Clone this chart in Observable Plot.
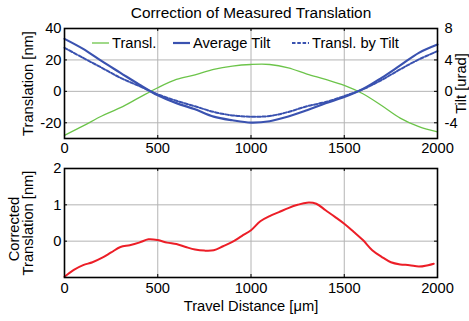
<!DOCTYPE html>
<html>
<head>
<meta charset="utf-8">
<script src="https://cdn.jsdelivr.net/npm/d3@7"></script>
<script src="https://cdn.jsdelivr.net/npm/@observablehq/plot@0.6"></script>
<style>
  body { margin: 0; background: #fff; }
  #chart { position: relative; width: 469px; height: 321px; overflow: hidden; background: #fff;
           font-family: "Liberation Sans", Arial, sans-serif; color: #000; }
  #chart svg.plot { position: absolute; left: 0; }
  .legend-item { position: absolute; display: flex; align-items: center; height: 16px; font-size: 14.7px; white-space: nowrap; }
  .legend-item span { margin-left: 3px; }
</style>
</head>
<body>
<div id="chart"></div>
<script>
// ---------- data ----------
const distance = [0,100,200,300,400,500,600,700,800,900,1000,1100,1200,1300,1400,1500,1600,1700,1800,1900,2000];
const translation = [-28,-22,-15.7,-10.4,-4,2.3,7.6,10.5,14,16.1,17.1,17.1,15,11,7.6,3.8,-1.5,-9,-17,-22.5,-25.8]; // nm
const averageTilt = [6.68,5.4,3.84,2.36,0.88,-0.5,-1.5,-2.28,-3.22,-3.68,-3.98,-3.8,-3.2,-2.4,-1.52,-0.72,0.3,1.72,3.3,4.9,5.96]; // urad
const translByTilt = [27.7,21.3,15,8.6,3.4,-1.9,-6,-9.5,-13.1,-15.3,-16.1,-15.7,-13.1,-9.5,-6.8,-3,1.3,7.2,14,20.3,25.6]; // nm

const correctedDistance = [0,50,100,150,200,250,300,350,400,450,500,550,600,650,700,750,800,850,900,950,1000,1050,1100,1150,1200,1250,1300,1350,1400,1450,1500,1550,1600,1650,1700,1750,1800,1850,1900,1950,1980];
const correctedTranslation = [-0.98,-0.79,-0.66,-0.58,-0.46,-0.31,-0.16,-0.11,-0.04,0.05,0.03,-0.04,-0.08,-0.16,-0.23,-0.26,-0.25,-0.14,-0.02,0.14,0.3,0.55,0.69,0.8,0.91,1.0,1.06,1.03,0.85,0.67,0.48,0.26,0.03,-0.25,-0.43,-0.58,-0.64,-0.66,-0.7,-0.66,-0.62];

const titleText = "Correction of Measured Translation";
const xLabel = "Travel Distance [μm]";
const yLabelTop = "Translation [nm]";
const yLabelRight = "Tilt [urad]";
const yLabelBottom = ["Corrected", "Translation [nm]"];
const xTicks = [0,500,1000,1500,2000];
const translTicks = [-20,0,20,40];
const correctedTicks = [0,1,2];
const nmPerUrad = 5; // right axis: 8 urad ↔ 40 nm

const legendNames = ["Transl.", "Average Tilt", "Transl. by Tilt"];

// ---------- styles ----------
const green = "#6cc44a", blue = "#3a52b0", red = "#ec1e27", gridColor = "#b4b4b4";
const fs = 14.7;
const font = "'Liberation Sans', Arial, sans-serif";
const legendColors = [green, blue, blue];
const legendWidths = [1.3, 2.2, 2];
const legendDash = [null, null, "3.5,1.8"];
const legendLeft = [92, 173, 292];

const W = 469, mL = 64, mR = 32, tickLen = 3;
const fmt = d => String(d);
const baseStyle = {fontFamily: font, fontSize: fs + "px", color: "#000", background: "transparent", overflow: "visible"};
const vText = {rotate: -90, text: d => d, fontSize: fs, textAnchor: "middle", lineAnchor: "middle"};

// small inward tick marks on all four sides of a frame
function innerTicks(xt, yt, plotH) {
  const plotW = W - mL - mR;
  const s = {stroke: "#000", strokeWidth: 1};
  return [
    Plot.tickX(xt, {x: d => d, insetTop: plotH - tickLen, ...s}),
    Plot.tickX(xt, {x: d => d, insetBottom: plotH - tickLen, ...s}),
    Plot.tickY(yt, {y: d => d, insetRight: plotW - tickLen, ...s}),
    Plot.tickY(yt, {y: d => d, insetLeft: plotW - tickLen, ...s})
  ];
}

const topH = 160, topMT = 28, topMB = 22;
const topChart = Plot.plot({
  width: W, height: topH,
  marginLeft: mL, marginRight: mR, marginTop: topMT, marginBottom: topMB,
  style: baseStyle,
  x: {domain: [0, 2000]},
  y: {domain: [-30, 40]},
  marks: [
    Plot.gridX(xTicks, {stroke: gridColor, strokeOpacity: 1, strokeWidth: 1}),
    Plot.gridY(translTicks, {stroke: gridColor, strokeOpacity: 1, strokeWidth: 1}),
    Plot.line(distance, {x: d => d, y: translation, stroke: green, strokeWidth: 1.3, curve: "catmull-rom"}),
    Plot.line(distance, {x: d => d, y: averageTilt.map(t => t * nmPerUrad), stroke: blue, strokeWidth: 2.2, curve: "catmull-rom"}),
    Plot.line(distance, {x: d => d, y: translByTilt, stroke: blue, strokeWidth: 2, strokeDasharray: "3.5,1.8", curve: "catmull-rom"}),
    ...innerTicks(xTicks, translTicks.filter(t => t !== 40), topH - topMT - topMB),
    Plot.frame({stroke: "#000", strokeWidth: 1.6}),
    Plot.axisX(xTicks, {anchor: "bottom", tickSize: 0, tickPadding: 4, tickFormat: fmt, label: null, fontSize: fs}),
    Plot.axisY(translTicks, {anchor: "left", tickSize: 0, tickPadding: 3, tickFormat: fmt, label: null, fontSize: fs}),
    Plot.axisY(translTicks, {anchor: "right", tickSize: 0, tickPadding: 7, tickFormat: d => String(d / nmPerUrad), label: null, fontSize: fs}),
    Plot.text([titleText], {frameAnchor: "top", dy: -15.5, text: d => d, fontSize: 15.4, lineAnchor: "middle"}),
    Plot.text([yLabelTop], {frameAnchor: "left", dx: -36, ...vText}),
    Plot.text([yLabelRight], {frameAnchor: "right", dx: 24, ...vText})
  ]
});
topChart.classList.add("plot");
topChart.style.top = "0px";

const botH = 161, botMT = 8, botMB = 44;
const bottomChart = Plot.plot({
  width: W, height: botH,
  marginLeft: mL, marginRight: mR, marginTop: botMT, marginBottom: botMB,
  style: baseStyle,
  x: {domain: [0, 2000]},
  y: {domain: [-1, 2]},
  marks: [
    Plot.gridX(xTicks, {stroke: gridColor, strokeOpacity: 1, strokeWidth: 1}),
    Plot.gridY(correctedTicks, {stroke: gridColor, strokeOpacity: 1, strokeWidth: 1}),
    Plot.line(correctedDistance, {x: d => d, y: correctedTranslation, stroke: red, strokeWidth: 2, curve: "catmull-rom"}),
    ...innerTicks(xTicks, correctedTicks.filter(t => t !== 2), botH - botMT - botMB),
    Plot.frame({stroke: "#000", strokeWidth: 1.6}),
    Plot.axisX(xTicks, {anchor: "bottom", tickSize: 0, tickPadding: 5, tickFormat: fmt, label: null, fontSize: fs}),
    Plot.axisY(correctedTicks, {anchor: "left", tickSize: 0, tickPadding: 3, tickFormat: fmt, label: null, fontSize: fs}),
    Plot.text([xLabel], {frameAnchor: "bottom", dy: 29, text: d => d, fontSize: fs, lineAnchor: "middle"}),
    Plot.text([yLabelBottom[0]], {frameAnchor: "left", dx: -50, dy: 6, ...vText}),
    Plot.text([yLabelBottom[1]], {frameAnchor: "left", dx: -36, ...vText})
  ]
});
bottomChart.classList.add("plot");
bottomChart.style.top = topH + "px";

const chart = document.getElementById("chart");
chart.appendChild(topChart);
chart.appendChild(bottomChart);

// legend (inside the upper axes, no box)
legendNames.forEach((name, i) => {
  const item = document.createElement("div");
  item.className = "legend-item";
  item.style.left = legendLeft[i] + "px";
  item.style.top = "35px";
  const ns = "http://www.w3.org/2000/svg";
  const sw = document.createElementNS(ns, "svg");
  sw.setAttribute("width", "17"); sw.setAttribute("height", "6");
  const ln = document.createElementNS(ns, "line");
  ln.setAttribute("x1", "0"); ln.setAttribute("x2", "17");
  ln.setAttribute("y1", "3"); ln.setAttribute("y2", "3");
  ln.setAttribute("stroke", legendColors[i]);
  ln.setAttribute("stroke-width", legendWidths[i]);
  if (legendDash[i]) ln.setAttribute("stroke-dasharray", legendDash[i]);
  sw.appendChild(ln);
  const label = document.createElement("span");
  label.textContent = name;
  item.appendChild(sw);
  item.appendChild(label);
  chart.appendChild(item);
});
</script>
</body>
</html>
